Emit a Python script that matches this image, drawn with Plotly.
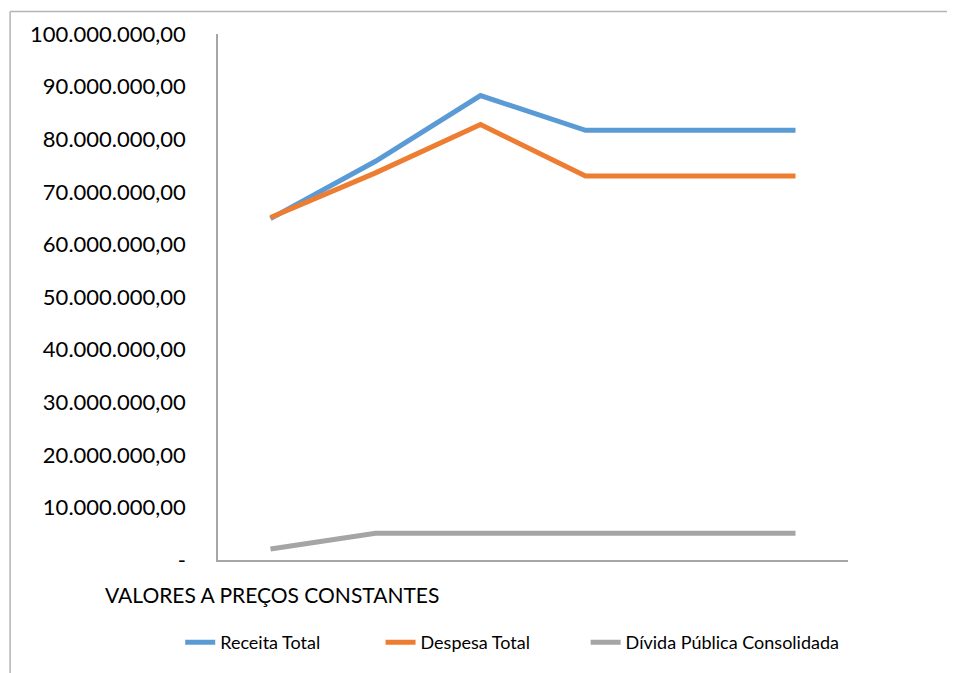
import plotly.graph_objects as go

categories = ["1", "2", "3", "4", "5", "6"]
receita_total = [64.9e6, 75.8e6, 88.3e6, 81.7e6, 81.7e6, 81.7e6]
despesa_total = [65.1e6, 73.6e6, 82.8e6, 73.0e6, 73.0e6, 73.0e6]
divida_publica = [2.1e6, 5.1e6, 5.1e6, 5.1e6, 5.1e6, 5.1e6]
tick_values = [0, 10e6, 20e6, 30e6, 40e6, 50e6, 60e6, 70e6, 80e6, 90e6, 100e6]
tick_labels = ["-", "10.000.000,00", "20.000.000,00", "30.000.000,00", "40.000.000,00",
               "50.000.000,00", "60.000.000,00", "70.000.000,00", "80.000.000,00",
               "90.000.000,00", "100.000.000,00"]
series_names = ["Receita Total", "Despesa Total", "Dívida Pública Consolidada"]

FONT = "Lato"
NB = "\u00a0"

fig = go.Figure()
fig.add_trace(go.Scatter(x=categories, y=receita_total, name=series_names[0] + NB * 12, mode="lines",
                         line=dict(color="#5b9bd5", width=5)))
fig.add_trace(go.Scatter(x=categories, y=despesa_total, name=series_names[1] + NB * 11, mode="lines",
                         line=dict(color="#ed7d31", width=5)))
fig.add_trace(go.Scatter(x=categories, y=divida_publica, name=series_names[2], mode="lines",
                         line=dict(color="#a5a5a5", width=5)))

fig.update_layout(
    width=947, height=665,
    margin=dict(l=210, r=107, t=24, b=111),
    paper_bgcolor="white", plot_bgcolor="white",
    font=dict(family=FONT, color="#000000"),
    showlegend=True,
    legend=dict(orientation="h", x=-0.06, xanchor="left", y=-0.157, yanchor="middle",
                font=dict(family=FONT, size=18, color="#000000")),
    xaxis=dict(type="category", showticklabels=False, showgrid=False, zeroline=False,
               showline=True, linecolor="#a6a6a6", linewidth=1.5, ticks="",
               range=[-0.5, 5.5]),
    yaxis=dict(range=[0, 100e6], tickvals=tick_values, ticktext=tick_labels,
               showgrid=False, zeroline=False, showline=True, linecolor="#a6a6a6",
               linewidth=1.5, ticks="", ticklabelstandoff=26,
               tickfont=dict(family=FONT, size=22, color="#000000")),
    annotations=[dict(text="VALORES A PREÇOS CONSTANTES", xref="paper", yref="paper",
                      x=-0.183, y=-0.066, xanchor="left", yanchor="middle", showarrow=False,
                      font=dict(family=FONT, size=21, color="#000000"))],
    shapes=[
        dict(type="line", xref="paper", yref="paper", x0=-0.330, x1=-0.330, y0=-0.3, y1=1.043,
             line=dict(color="#b4b4b4", width=1.5)),
        dict(type="line", xref="paper", yref="paper", x0=-0.330, x1=1.17, y0=1.043, y1=1.043,
             line=dict(color="#b4b4b4", width=1.5)),
    ],
)

fig.write_html("out.html")
